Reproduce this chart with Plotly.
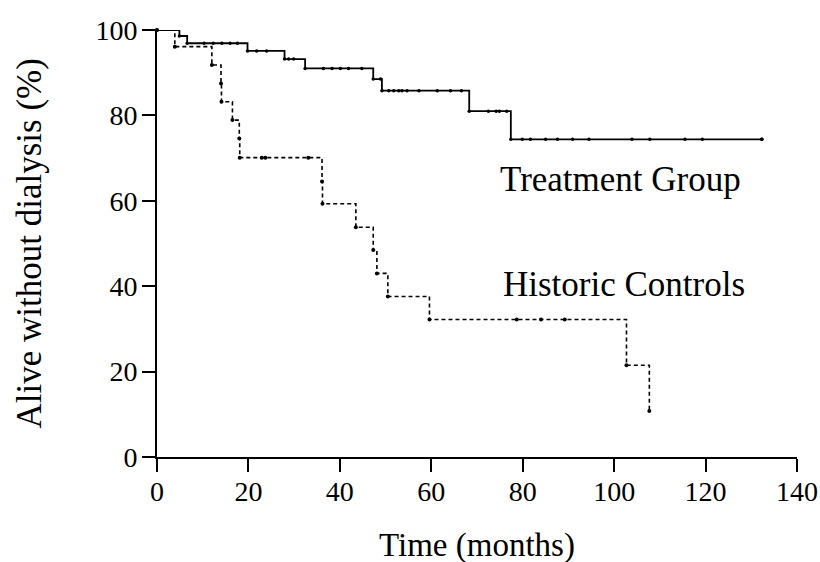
import plotly.graph_objects as go
import numpy as np

# Treatment group Kaplan-Meier steps (time in months, % alive without dialysis)
treat_t = [0, 4.9, 6.6, 19.8, 27.9, 32.4, 47.3, 49.2, 68.3, 77.4, 132.3]
treat_s = [100, 98.6, 96.9, 95.1, 93.2, 91.0, 88.5, 85.8, 81.0, 74.4, 74.4]
treat_censor = [10.3, 12.3, 14.2, 16.0, 17.6, 21.8, 24.0, 28.8, 29.9, 36.4, 38.3,
                40.1, 41.9, 44.8, 48.9, 50.7, 51.8, 52.9, 53.6, 54.7, 57.3, 61.3,
                64.2, 66.6, 72.5, 74.2, 74.9, 76.5, 79.9, 81.7, 85.0, 87.6, 90.9,
                94.5, 103.9, 107.8, 115.5, 119.3, 132.3]

# Historic controls
ctrl_t = [0, 3.9, 12.0, 14.0, 14.1, 16.5, 18.0, 18.1, 36.1, 36.2, 43.5, 47.3,
          48.1, 50.5, 59.6, 102.7, 107.7]
ctrl_s = [100, 96.1, 91.8, 87.5, 83.2, 78.9, 74.6, 70.1, 64.5, 59.3, 53.8, 48.5,
          43.0, 37.6, 32.2, 21.5, 10.8]
ctrl_censor = [22.9, 23.7, 33.1, 78.7, 84.0, 89.2]

x_ticks = [0, 20, 40, 60, 80, 100, 120, 140]
y_ticks = [0, 20, 40, 60, 80, 100]


def step_value(times, surv, t):
    idx = np.searchsorted(np.array(times), t, side="right") - 1
    return surv[max(idx, 0)]


FONT = "Liberation Serif, Times New Roman, serif"

fig = go.Figure()
fig.add_trace(go.Scatter(
    x=treat_t, y=treat_s, mode="lines+markers", line_shape="hv",
    line=dict(color="black", width=1.8),
    marker=dict(color="black", size=3.5), cliponaxis=False, showlegend=False))
fig.add_trace(go.Scatter(
    x=treat_censor, y=[step_value(treat_t, treat_s, t) for t in treat_censor],
    mode="markers", marker=dict(color="black", size=3.5), cliponaxis=False,
    showlegend=False))
fig.add_trace(go.Scatter(
    x=ctrl_t, y=ctrl_s, mode="lines+markers", line_shape="hv",
    line=dict(color="black", width=1.6, dash="4px,3px"),
    marker=dict(color="black", size=4), cliponaxis=False, showlegend=False))
fig.add_trace(go.Scatter(
    x=ctrl_censor, y=[step_value(ctrl_t, ctrl_s, t) for t in ctrl_censor],
    mode="markers", marker=dict(color="black", size=4), cliponaxis=False,
    showlegend=False))

fig.add_annotation(x=74.7, y=64.9, text="Treatment Group", showarrow=False,
                   xanchor="left", yanchor="middle",
                   font=dict(family=FONT, size=35, color="black"))
fig.add_annotation(x=75.2, y=40.3, text="Historic Controls", showarrow=False,
                   xanchor="left", yanchor="middle",
                   font=dict(family=FONT, size=35, color="black"))

# Axis titles
fig.add_annotation(xref="paper", yref="paper", x=0.5, y=0, yshift=-88,
                   text="Time (months)", showarrow=False,
                   xanchor="center", yanchor="middle",
                   font=dict(family=FONT, size=33, color="black"))
fig.add_annotation(xref="paper", yref="paper", x=0, y=0.5, xshift=-128,
                   text="Alive without dialysis (%)", showarrow=False,
                   textangle=-90, xanchor="center", yanchor="middle",
                   font=dict(family=FONT, size=35, color="black"))

axis_common = dict(showgrid=False, zeroline=False, showline=True,
                   linecolor="black", linewidth=2, ticks="outside",
                   ticklen=13, tickwidth=1.5, tickcolor="black",
                   automargin=False,
                   tickfont=dict(family=FONT, size=28, color="black"))

fig.update_xaxes(range=[0, 140], tickvals=x_ticks, ticklabelstandoff=-5,
                 **axis_common)
fig.update_yaxes(range=[0, 100], tickvals=y_ticks, ticklabelstandoff=-1,
                 **axis_common)

fig.update_layout(width=820, height=562, plot_bgcolor="white",
                  paper_bgcolor="white",
                  margin=dict(l=157, r=23, t=30, b=105))

# Remove the default page margin so the figure fills the window exactly.
fig.write_html("out.html",
               config={"displayModeBar": False},
               post_script="document.body.style.margin='0';"
                           "document.body.style.overflow='hidden';")
